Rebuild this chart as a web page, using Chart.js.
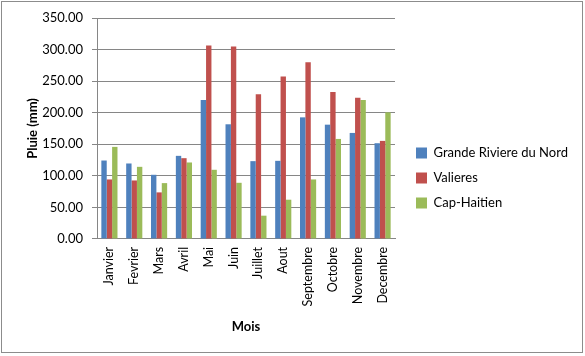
<!DOCTYPE html>
<html><head><meta charset="utf-8">
<script src="https://cdn.jsdelivr.net/npm/chart.js@4/dist/chart.umd.min.js"></script>
<style>html,body{margin:0;padding:0;background:#fff}#wrap{width:585px;height:356px;position:relative}</style>
</head><body><div id="wrap"><canvas id="c" width="585" height="356"></canvas></div>
<script>
const categories = ["Janvier","Fevrier","Mars","Avril","Mai","Juin","Juillet","Aout","Septembre","Octobre","Novembre","Decembre"];
const grandeRiviere = [124.2,119.5,101.6,131.6,220.0,181.6,123.2,123.7,192.6,181.0,167.9,151.6];
const valieres = [94.2,92.6,73.7,127.9,306.3,304.7,229.0,257.4,280.0,232.6,223.7,155.3];
const capHaitien = [145.8,114.2,88.4,121.1,109.5,88.9,36.8,62.1,94.2,158.4,220.0,200.5];
const seriesNames = ["Grande Riviere du Nord","Valieres","Cap-Haitien"];
const yTickValues = [0,50,100,150,200,250,300,350];
const yTitle = "Pluie (mm)";
const xTitle = "Mois";

const FONT = "Lato, 'Open Sans', sans-serif";
const frame = {
  id:'frame',
  afterLayout(chart){
    const lg = chart.legend;
    if(lg){
      lg.left += 9; lg.right = 582; lg.width = lg.right - lg.left;
      lg.maxWidth = lg.width;
      lg.top = 0; lg.bottom = 356; lg.height = 356;
    }
  },
  beforeDraw(chart){
    const ctx = chart.ctx;
    ctx.save();
    ctx.fillStyle='#fff';
    ctx.fillRect(0,0,chart.width,chart.height);
    ctx.strokeStyle='#8c8c8c';
    ctx.lineWidth=1;
    ctx.strokeRect(1.5,1.5,581,351);
    ctx.restore();
  }
};
function draw(){
new Chart(document.getElementById('c'),{
  type:'bar',
  data:{
    labels:categories,
    datasets:[
      {label:seriesNames[0],data:grandeRiviere,backgroundColor:'#4F81BD'},
      {label:seriesNames[1],data:valieres,backgroundColor:'#C0504D'},
      {label:seriesNames[2],data:capHaitien,backgroundColor:'#9BBB59'}
    ]
  },
  options:{
    responsive:false,
    animation:false,
    devicePixelRatio:1,
    layout:{padding:{left:21,right:50,top:18,bottom:21}},
    datasets:{bar:{categoryPercentage:0.65,barPercentage:1}},
    plugins:{
      legend:{position:'right',maxWidth:140,labels:{font:{family:FONT,size:13},color:'#000',boxWidth:11,boxHeight:11,padding:12}},
      tooltip:{enabled:false}
    },
    scales:{
      x:{
        grid:{drawOnChartArea:false,offset:true,tickLength:5,color:'rgba(0,0,0,0)'},
        border:{color:'#868686'},
        ticks:{maxRotation:90,minRotation:90,color:'#000',font:{family:FONT,size:12.5}},
        title:{display:true,text:xTitle,color:'#000',padding:{top:10,bottom:0},font:{family:FONT,size:13,weight:'bold'}}
      },
      y:{
        min:0,max:350,
        afterFit(s){ s.width = 76; },
        afterBuildTicks(s){ s.ticks = yTickValues.map(v=>({value:v})); },
        grid:{color:'#868686',tickLength:5},
        border:{color:'#868686'},
        ticks:{padding:9,color:'#000',font:{family:FONT,size:13},callback:v=>Number(v).toFixed(2)},
        title:{display:true,text:yTitle,color:'#000',padding:{top:4,bottom:4},font:{family:FONT,size:13,weight:'bold'}}
      }
    }
  },
  plugins:[frame]
});
}
Promise.all([document.fonts.load("13px Lato"),document.fonts.load("bold 13px Lato")]).then(draw,draw);
</script></body></html>
